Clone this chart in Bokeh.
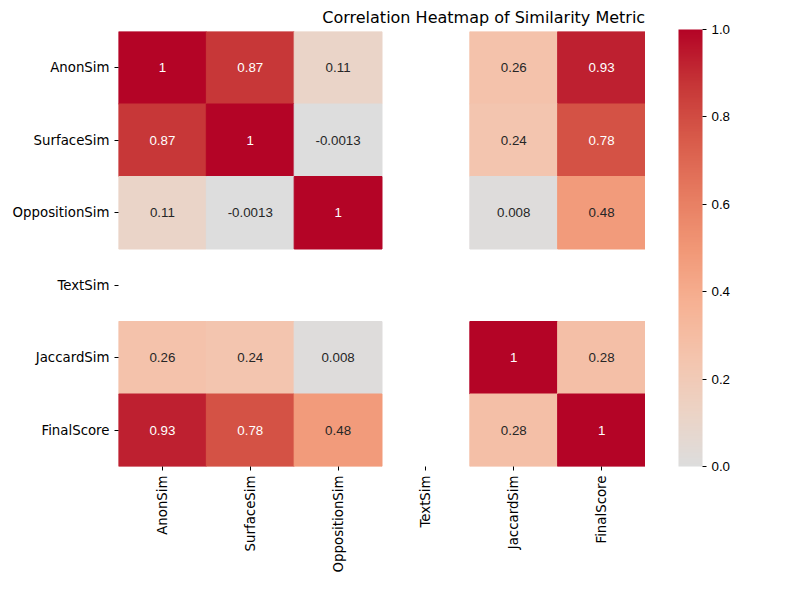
import math

from bokeh.plotting import figure
from bokeh.layouts import row
from bokeh.models import ColumnDataSource, LinearColorMapper, ColorBar, FixedTicker, PrintfTickFormatter
from bokeh.embed import file_html
from bokeh.resources import INLINE

metrics = ["AnonSim", "SurfaceSim", "OppositionSim", "TextSim", "JaccardSim", "FinalScore"]
corr = [
    [1, 0.87, 0.11, None, 0.26, 0.93],
    [0.87, 1, -0.0013, None, 0.24, 0.78],
    [0.11, -0.0013, 1, None, 0.008, 0.48],
    [None, None, None, None, None, None],
    [0.26, 0.24, 0.008, None, 1, 0.28],
    [0.93, 0.78, 0.48, None, 0.28, 1],
]
labels = [
    ["1", "0.87", "0.11", "", "0.26", "0.93"],
    ["0.87", "1", "-0.0013", "", "0.24", "0.78"],
    ["0.11", "-0.0013", "1", "", "0.008", "0.48"],
    ["", "", "", "", "", ""],
    ["0.26", "0.24", "0.008", "", "1", "0.28"],
    ["0.93", "0.78", "0.48", "", "0.28", "1"],
]

# upper half of coolwarm (seaborn center=0)
keys = [(221, 221, 221), (236, 211, 197), (244, 196, 173), (246, 177, 147),
        (241, 151, 118), (230, 123, 96), (216, 91, 74), (198, 54, 55), (180, 4, 38)]


def cw(t):
    t = min(max(t, 0), 1) * (len(keys) - 1)
    i = min(int(t), len(keys) - 2)
    f = t - i
    c = [round(keys[i][k] + (keys[i + 1][k] - keys[i][k]) * f) for k in range(3)]
    return "#%02x%02x%02x" % tuple(c)


palette = [cw(i / 255) for i in range(256)]

xs, ys, vals, cols, txt, tcol = [], [], [], [], [], []
for r, rw in enumerate(corr):
    for c, v in enumerate(rw):
        if v is None:
            continue
        xs.append(metrics[c])
        ys.append(metrics[r])
        vals.append(v)
        cols.append(cw(v))
        txt.append(labels[r][c])
        tcol.append("white" if v >= 0.7 else "#262626")

src = ColumnDataSource(dict(x=xs, y=ys, v=vals, color=cols, t=txt, tc=tcol))

p = figure(x_range=metrics, y_range=list(reversed(metrics)),
           width=645, height=584, output_backend="svg", toolbar_location=None,
           title="Correlation Heatmap of Similarity Metrics",
           min_border_left=118, min_border_right=0,
           min_border_top=29, min_border_bottom=118)
p.title.align = "right"
p.title.text_font_size = "12pt"
p.title.text_font_style = "normal"
p.title.text_font = "DejaVu Sans"
p.title.text_color = "black"
p.title.offset = -8

p.rect("x", "y", 1, 1, source=src, fill_color="color", line_color="color")
p.text("x", "y", text="t", source=src, text_color="tc", text_align="center",
       text_baseline="middle", text_font_size="10pt")

p.grid.visible = False
p.outline_line_color = None
for ax in (p.xaxis, p.yaxis):
    ax.axis_line_color = None
    ax.major_label_text_font_size = "10pt"
    ax.major_label_text_font = "DejaVu Sans"
    ax.major_label_text_color = "black"
    ax.major_tick_out = 4
    ax.major_tick_in = 0
p.xaxis.major_label_orientation = math.pi / 2

q = figure(width=139, height=584, output_backend="svg", toolbar_location=None,
           x_axis_location=None, y_axis_location=None,
           min_border_left=0, min_border_right=0,
           min_border_top=29, min_border_bottom=118)
q.grid.visible = False
q.outline_line_color = None

mapper = LinearColorMapper(palette=palette, low=0, high=1)
cb = ColorBar(color_mapper=mapper, width=24, height=437, padding=0, margin=0,
              location=(33, 0),
              ticker=FixedTicker(ticks=[0, 0.2, 0.4, 0.6, 0.8, 1.0]),
              formatter=PrintfTickFormatter(format="%.1f"),
              major_label_text_font_size="10pt", major_label_text_color="black",
              major_tick_out=4, major_tick_in=0,
              major_tick_line_color="black", bar_line_color=None,
              background_fill_color=None)
q.add_layout(cb, "center")

open("out.html", "w").write(file_html(row(p, q), INLINE))
